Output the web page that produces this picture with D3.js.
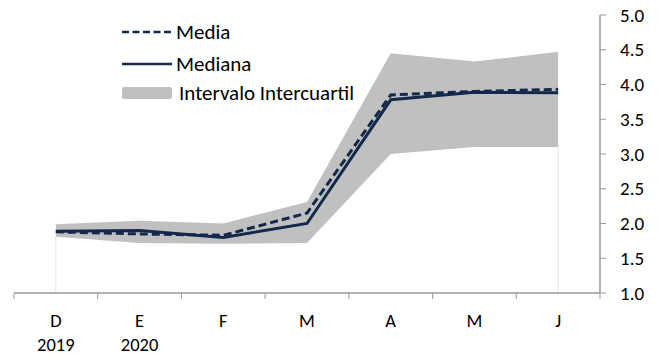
<!DOCTYPE html>
<html>
<head>
<meta charset="utf-8">
<script src="https://cdn.jsdelivr.net/npm/d3@7"></script>
<style>
  body { margin: 0; background: #fff; }
  svg { font-family: Carlito, Lato, "Open Sans", sans-serif; }
</style>
</head>
<body>
<svg width="662" height="356"></svg>
<script>
// data
var months = ['D', 'E', 'F', 'M', 'A', 'M ', 'J'];
var years = ['2019', '2020', '', '', '', '', ''];
var media = [1.88, 1.85, 1.83, 2.15, 3.85, 3.90, 3.93];
var mediana = [1.89, 1.90, 1.80, 2.00, 3.78, 3.89, 3.88];
var q1 = [1.81, 1.72, 1.71, 1.72, 3.00, 3.10, 3.10];
var q3 = [1.99, 2.04, 2.00, 2.31, 4.45, 4.33, 4.47];
var yTicks = [1.0, 1.5, 2.0, 2.5, 3.0, 3.5, 4.0, 4.5, 5.0];

var navy = '#13294b';
var svg = d3.select('svg');

var xScale = d3.scaleBand().domain(months).range([14, 600]);
var yScale = d3.scaleLinear().domain([1, 5]).range([293, 15]);
var cx = function(i) { return xScale(months[i]) + xScale.bandwidth() / 2; };

var chartG = svg.append('g');

// intercuartil band
var area = d3.area()
    .x(function(d, i) { return cx(i); })
    .y0(function(d, i) { return yScale(q1[i]); })
    .y1(function(d, i) { return yScale(q3[i]); });
chartG.append('path')
    .datum(months)
    .attr('d', area)
    .attr('fill', '#c0c0c0');

// faint drop lines at the ends
[0, months.length - 1].forEach(function(i) {
    chartG.append('line')
        .attr('x1', cx(i)).attr('x2', cx(i))
        .attr('y1', yScale(q1[i])).attr('y2', yScale(1))
        .attr('stroke', '#e4e4e4').attr('stroke-width', 1);
});

var line = d3.line().x(function(d, i) { return cx(i); }).y(function(d) { return yScale(d); });

chartG.append('path')
    .datum(mediana)
    .attr('d', line)
    .attr('fill', 'none')
    .attr('stroke', navy)
    .attr('stroke-width', 3);

chartG.append('path')
    .datum(media)
    .attr('d', line)
    .attr('fill', 'none')
    .attr('stroke', navy)
    .attr('stroke-width', 3)
    .attr('stroke-dasharray', '8,4');

// x axis
var xAxisG = svg.append('g').attr('transform', 'translate(0,293)');
xAxisG.append('line')
    .attr('x1', 14).attr('x2', 600)
    .attr('stroke', '#999').attr('stroke-width', 1.5);
var xEdges = months.map(function(m) { return xScale(m); }).concat([600]);
xAxisG.selectAll('.xtick').data(xEdges).enter().append('line')
    .attr('x1', function(d) { return d; }).attr('x2', function(d) { return d; })
    .attr('y1', 0).attr('y2', 6)
    .attr('stroke', '#999').attr('stroke-width', 1);
xAxisG.selectAll('.xlab').data(months).enter().append('text')
    .attr('x', function(d, i) { return cx(i); })
    .attr('y', 34)
    .attr('text-anchor', 'middle')
    .attr('font-size', 18.5)
    .attr('fill', '#000')
    .text(function(d) { return d.trim(); });
xAxisG.selectAll('.ylab').data(years).enter().append('text')
    .attr('x', function(d, i) { return cx(i); })
    .attr('y', 58)
    .attr('text-anchor', 'middle')
    .attr('font-size', 18.5)
    .attr('fill', '#000')
    .text(function(d) { return d; });

// y axis on the right
var yAxisG = svg.append('g').attr('transform', 'translate(600,0)');
yAxisG.append('line')
    .attr('y1', yScale(1)).attr('y2', yScale(5))
    .attr('stroke', '#999').attr('stroke-width', 1.5);
yAxisG.selectAll('.ytick').data(yTicks).enter().append('line')
    .attr('x1', 0).attr('x2', 6)
    .attr('y1', function(d) { return yScale(d); })
    .attr('y2', function(d) { return yScale(d); })
    .attr('stroke', '#999').attr('stroke-width', 1);
yAxisG.selectAll('.ytext').data(yTicks).enter().append('text')
    .attr('x', 20)
    .attr('y', function(d) { return yScale(d); })
    .attr('dy', '0.35em')
    .attr('font-size', 19)
    .attr('fill', '#000')
    .text(function(d) { return d3.format('.1f')(d); });

// legend
var legend = svg.append('g').attr('transform', 'translate(122,0)');
legend.append('line')
    .attr('x1', 0).attr('x2', 50).attr('y1', 32).attr('y2', 32)
    .attr('stroke', navy).attr('stroke-width', 2.5).attr('stroke-dasharray', '7,3.5');
legend.append('text').attr('x', 54).attr('y', 32).attr('dy', '0.35em')
    .attr('font-size', 21).text('Media');
legend.append('line')
    .attr('x1', 0).attr('x2', 50).attr('y1', 64).attr('y2', 64)
    .attr('stroke', navy).attr('stroke-width', 2.5);
legend.append('text').attr('x', 54).attr('y', 64).attr('dy', '0.35em')
    .attr('font-size', 21).text('Mediana');
legend.append('rect')
    .attr('x', 0).attr('y', 87).attr('width', 50).attr('height', 12)
    .attr('rx', 2)
    .attr('fill', '#c0c0c0');
legend.append('text').attr('x', 57).attr('y', 93).attr('dy', '0.35em')
    .attr('font-size', 21).text('Intervalo Intercuartil');
</script>
</body>
</html>
